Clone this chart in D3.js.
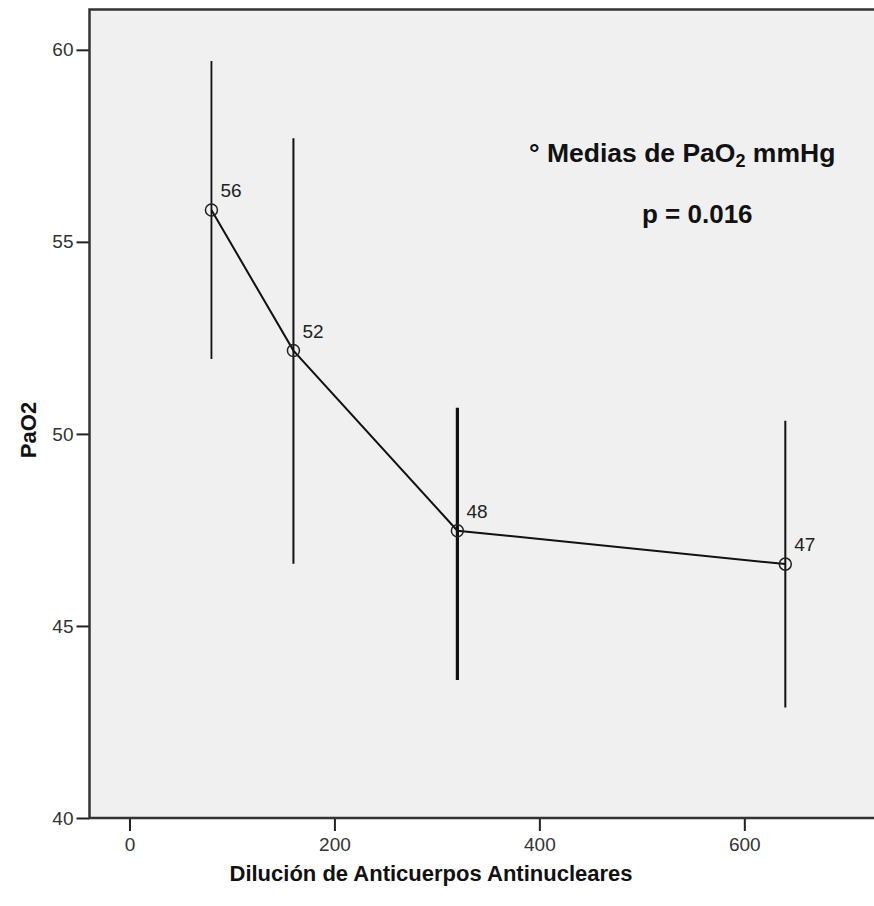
<!DOCTYPE html>
<html>
<head>
<meta charset="utf-8">
<script src="https://cdnjs.cloudflare.com/ajax/libs/d3/7.8.5/d3.min.js"></script>
<style>
    body { margin: 0; background: #fff; }
    svg { display: block; font-family: "Liberation Sans", Arial, sans-serif; }
</style>
</head>
<body>
<svg id="chart" width="874" height="906"></svg>
<script>
// Data (x = dilution, y = mean PaO2 with interval ends)
const dilution = [80, 160, 320, 640];
const meanPaO2 = [55.83, 52.17, 47.48, 46.61];
const upperBar = [59.71, 57.70, 50.68, 50.34];
const lowerBar = [51.95, 46.62, 43.59, 42.88];
const pointLabels = ["56", "52", "48", "47"];

const xTicks = [0, 200, 400, 600];
const yTicks = [40, 45, 50, 55, 60];

const svg = d3.select("#chart");

// plot frame (runs off the right edge like the original)
const plot = { left: 89.5, top: 9.5, right: 876, bottom: 818 };

const xScale = d3.scaleLinear()
    .domain([-39, 728.5])
    .range([plot.left, plot.right]);

const yScale = d3.scaleLinear()
    .domain([40, 61.05])
    .range([plot.bottom, plot.top]);

// grey panel
svg.append("rect")
    .attr("x", plot.left)
    .attr("y", plot.top)
    .attr("width", plot.right - plot.left)
    .attr("height", plot.bottom - plot.top)
    .attr("fill", "#f0f0f0");

// axes
const yAxis = svg.append("g")
    .attr("transform", `translate(${plot.left},0)`)
    .call(d3.axisLeft(yScale).tickValues(yTicks).tickSize(13).tickPadding(3).tickSizeOuter(0));

const xAxis = svg.append("g")
    .attr("transform", `translate(0,${plot.bottom})`)
    .call(d3.axisBottom(xScale).tickValues(xTicks).tickSize(13).tickPadding(7).tickSizeOuter(0));

[xAxis, yAxis].forEach(ax => {
    ax.select(".domain").remove();
    ax.selectAll("line").attr("stroke", "#222").attr("stroke-width", 2);
    ax.selectAll("text")
        .attr("fill", "#333")
        .style("font-size", "19px")
        .style("font-family", "Liberation Sans, Arial, sans-serif");
});

// frame lines on top of the ticks
svg.append("path")
    .attr("d", `M${plot.right},${plot.top}H${plot.left}V${plot.bottom}H${plot.right}`)
    .attr("fill", "none")
    .attr("stroke", "#333")
    .attr("stroke-width", 2.5);

// error bars - the third one is drawn heavier in the original
const barWidths = [1.8, 2, 3.2, 2];
svg.append("g").selectAll("line")
    .data(dilution)
    .join("line")
    .attr("x1", d => xScale(d))
    .attr("x2", d => xScale(d))
    .attr("y1", (d, i) => yScale(upperBar[i]))
    .attr("y2", (d, i) => yScale(lowerBar[i]))
    .attr("stroke", "#111")
    .attr("stroke-width", (d, i) => barWidths[i]);

// line through the means
const line = d3.line()
    .x((d, i) => xScale(dilution[i]))
    .y(d => yScale(d));

svg.append("path")
    .datum(meanPaO2)
    .attr("d", line)
    .attr("fill", "none")
    .attr("stroke", "#111")
    .attr("stroke-width", 2);

// open circle markers
svg.append("g").selectAll("circle")
    .data(meanPaO2)
    .join("circle")
    .attr("cx", (d, i) => xScale(dilution[i]))
    .attr("cy", d => yScale(d))
    .attr("r", 6)
    .attr("fill", "none")
    .attr("stroke", "#222")
    .attr("stroke-width", 1.5);

// value labels
svg.append("g").selectAll("text")
    .data(meanPaO2)
    .join("text")
    .attr("x", (d, i) => xScale(dilution[i]) + 9)
    .attr("y", d => yScale(d) - 13)
    .attr("fill", "#222")
    .style("font-size", "19px")
    .text((d, i) => pointLabels[i]);

// annotation
const note = svg.append("text")
    .attr("x", 529)
    .attr("y", 162)
    .attr("fill", "#111")
    .style("font-size", "26.5px")
    .style("font-weight", "bold");
note.append("tspan").text("° Medias de PaO");
note.append("tspan").text("2").attr("dy", 5).style("font-size", "18px");
note.append("tspan").text(" mmHg").attr("dy", -5);

svg.append("text")
    .attr("x", 642)
    .attr("y", 223)
    .attr("fill", "#111")
    .style("font-size", "26px")
    .style("font-weight", "bold")
    .text("p = 0.016");

// axis titles
svg.append("text")
    .attr("transform", `translate(36,430) rotate(-90)`)
    .attr("text-anchor", "middle")
    .attr("fill", "#111")
    .style("font-size", "22px")
    .style("font-weight", "bold")
    .text("PaO2");

svg.append("text")
    .attr("x", 431)
    .attr("y", 881)
    .attr("text-anchor", "middle")
    .attr("fill", "#111")
    .style("font-size", "22px")
    .style("font-weight", "bold")
    .text("Dilución de Anticuerpos Antinucleares");
</script>
</body>
</html>
